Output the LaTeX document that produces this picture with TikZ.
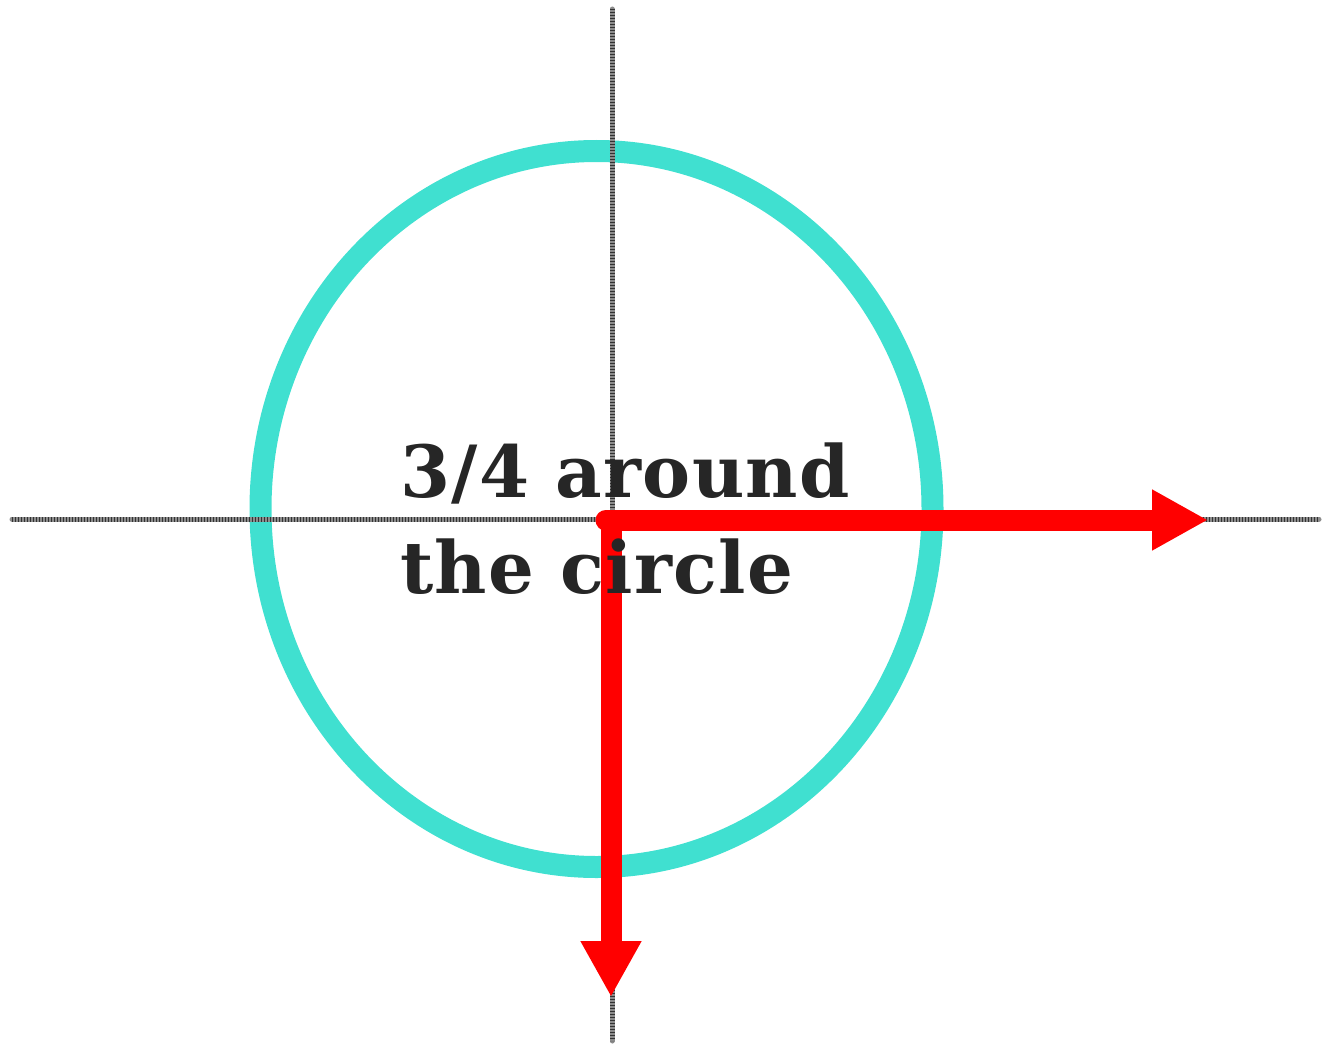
\documentclass[tikz,border=0pt]{standalone}
\usepackage{fontspec}
\usepackage{tikz}
\usetikzlibrary{arrows.meta}
\newfontfamily\sketchfont[LetterSpace=1.8]{DejaVu Serif}
\definecolor{turq}{HTML}{40E0D0}
\definecolor{vecred}{HTML}{FF0000}
\tikzset{
  ring/.style={draw=turq, line width=22pt},
  axisline/.style={draw=black!45, line width=5pt, line cap=round},
  axistick/.style={draw=black!80, line width=5pt, dash pattern=on 0.8pt off 2.2pt},
  vec/.style={draw=vecred, line width=21pt, -{Triangle[length=56pt, width=57pt]}},
  lbl/.style={font=\sketchfont\bfseries\fontsize{72}{96}\selectfont, text=black!85, inner sep=0pt, anchor=base west}
}
\begin{document}
\begin{tikzpicture}[x=1pt, y=-1pt]
 \useasboundingbox (0,0) rectangle (1322,1046);
 \coordinate (O) at (611,520);
 \coordinate (xl) at (12,519); \coordinate (xr) at (1319,519);
 \coordinate (yt) at (612,9); \coordinate (yb) at (612,1041);
 \coordinate (vx) at (1208,520); \coordinate (vy) at (611,997);
 % unit circle
 \draw[ring] (596.5,509) ellipse [x radius=336, y radius=358];
 % axes
 \draw[axisline] (xl)--(xr); \draw[axisline] (yt)--(yb);
 \draw[axistick] (xl)--(xr); \draw[axistick] (yt)--(yb);
 % the two vectors
 \draw[vec, line cap=round] ([xshift=-5pt]O)--(vx);
 \draw[vec] (O)--(vy);
 \node[lbl] (l1) at (400,497) {3/4 around};
 \node[lbl] (l2) at (400,593) {the circle};
\end{tikzpicture}
\end{document}
